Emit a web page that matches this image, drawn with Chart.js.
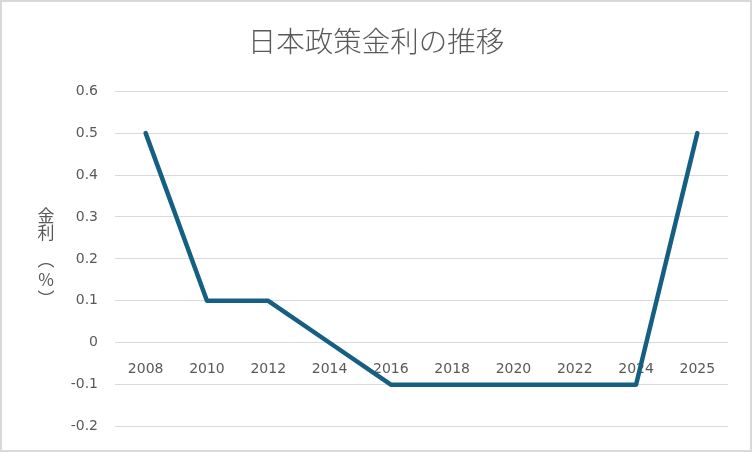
<!DOCTYPE html>
<html>
<head>
<meta charset="utf-8">
<script src="https://cdn.jsdelivr.net/npm/chart.js@4"></script>
<style>
  body { margin: 0; background: #fff; }
</style>
</head>
<body>
<canvas id="chart" width="752" height="452"></canvas>
<script>
// data
const years = ["2008", "2010", "2012", "2014", "2016", "2018", "2020", "2022", "2024", "2025"];
const rates = [0.5, 0.1, 0.1, 0, -0.1, -0.1, -0.1, -0.1, -0.1, 0.5];
const chartTitle = "日本政策金利の推移";
const yTitle = ["金", "利", "︵", "%", "︶"];   // 金利（%） written vertically

const textColor = "#595959";
const gridColor = "#d9d9d9";

// white background + thin frame like the Excel chart
const frame = {
    id: "frame",
    beforeDraw(chart) {
        const ctx = chart.ctx;
        ctx.save();
        ctx.fillStyle = "#fff";
        ctx.fillRect(0, 0, chart.width, chart.height);
        ctx.restore();
    },
    afterDraw(chart) {
        const ctx = chart.ctx;
        ctx.save();
        ctx.strokeStyle = gridColor;
        ctx.lineWidth = 2;
        ctx.strokeRect(1, 1, chart.width - 2, chart.height - 2);
        ctx.restore();
    }
};

// vertical (tategaki) axis title
const verticalTitle = {
    id: "verticalTitle",
    afterDraw(chart) {
        const ctx = chart.ctx;
        const cx = 46;
        const ys = [216, 233, 260, 280, 299];
        ctx.save();
        ctx.fillStyle = textColor;
        ctx.font = "17px 'Noto Sans CJK JP'";
        ctx.textAlign = "center";
        ctx.textBaseline = "middle";
        yTitle.forEach((ch, i) => {
            ctx.fillText(ch, cx, ys[i]);
        });
        ctx.restore();
    }
};

new Chart(document.getElementById("chart"), {
    type: "line",
    data: {
        labels: years,
        datasets: [{
            label: "金利",
            data: rates,
            borderColor: "#156082",
            borderWidth: 4.5,
            borderCapStyle: "round",
            borderJoinStyle: "round",
            pointRadius: 0,
            tension: 0,
            fill: false
        }]
    },
    options: {
        responsive: false,
        animation: false,
        layout: { padding: { left: 0, right: 0, top: 0, bottom: 24 } },
        plugins: {
            legend: { display: false },
            tooltip: { enabled: false },
            title: {
                display: true,
                text: chartTitle,
                color: textColor,
                font: { family: "'Noto Sans CJK JP'", size: 28.5, weight: 300 },
                padding: { top: 24, bottom: 33 }
            }
        },
        scales: {
            x: {
                position: { y: 0 },
                offset: true,
                grid: { display: false, drawTicks: false },
                border: { display: false },
                ticks: {
                    color: textColor,
                    font: { family: "'DejaVu Sans'", size: 14 },
                    padding: 18,
                    maxRotation: 0,
                    autoSkip: false
                }
            },
            y: {
                min: -0.2,
                max: 0.6,
                afterFit: (s) => { s.width = 115; },
                grid: { color: gridColor, lineWidth: 1, drawTicks: false },
                border: { display: false },
                ticks: {
                    stepSize: 0.1,
                    color: textColor,
                    font: { family: "'DejaVu Sans'", size: 14 },
                    padding: 17,
                    callback: (v) => String(Math.round(v * 10) / 10)
                }
            },
            // empty right axis, only keeps the right margin so the title stays centred
            yRight: {
                position: "right",
                afterFit: (s) => { s.width = 24; },
                grid: { display: false, drawTicks: false },
                border: { display: false },
                ticks: { display: false }
            }
        }
    },
    plugins: [frame, verticalTitle]
});
</script>
</body>
</html>
